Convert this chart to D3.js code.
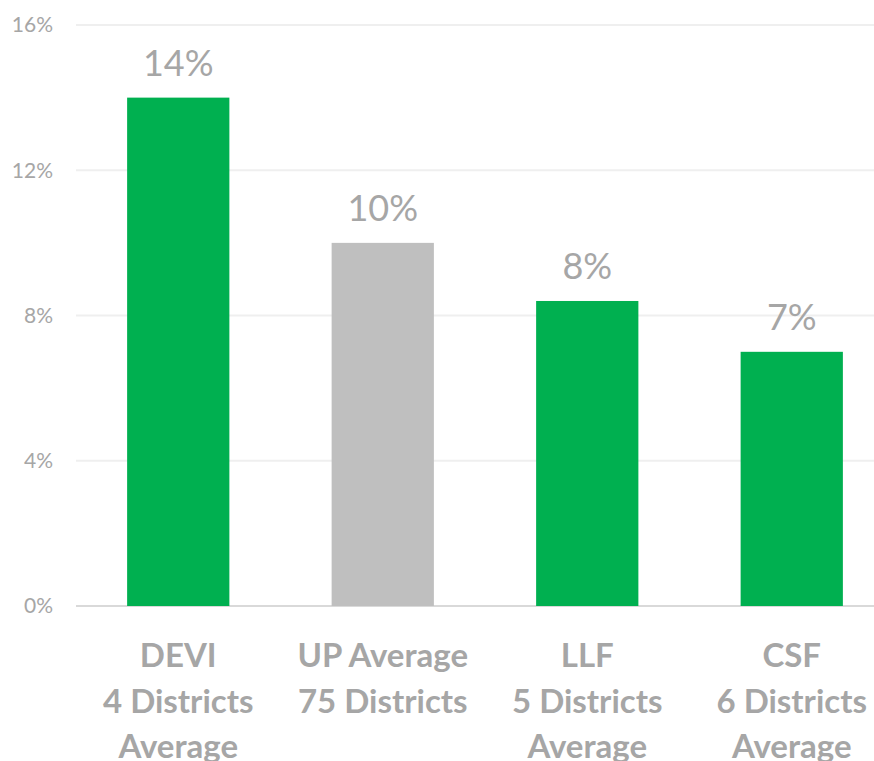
<!DOCTYPE html>
<meta charset="utf-8">
<script src="https://d3js.org/d3.v7.min.js"></script>
<style>
  body { margin: 0; background: #fff; }
  text { font-family: Lato, "Open Sans", sans-serif; }
</style>
<div id="my_dataviz"></div>
<script>
  // data
  var categories = [
    ["DEVI", "4 Districts", "Average"],
    ["UP Average", "75 Districts"],
    ["LLF", "5 Districts", "Average"],
    ["CSF", "6 Districts", "Average"]
  ];
  var values = [14, 10, 8.4, 7];
  var valueLabels = ["14%", "10%", "8%", "7%"];
  var barColors = ["#00B050", "#BFBFBF", "#00B050", "#00B050"];
  var yTicks = [0, 4, 8, 12, 16];

  var W = 874, H = 761;
  var svg = d3.select("#my_dataviz")
    .append("svg")
      .attr("width", W)
      .attr("height", H);

  var x = d3.scaleBand()
    .domain(d3.range(values.length))
    .range([76, 894])
    .paddingInner(0.5)
    .paddingOuter(0.25);

  var y = d3.scaleLinear()
    .domain([0, 16])
    .range([606, 25]);

  // gridlines
  svg.append("g")
    .selectAll("line")
    .data(yTicks)
    .enter()
    .append("line")
      .attr("x1", 76)
      .attr("x2", W)
      .attr("y1", function(d) { return y(d); })
      .attr("y2", function(d) { return y(d); })
      .attr("stroke", function(d) { return d === 0 ? "#D9D9D9" : "#EFEFEF"; })
      .attr("stroke-width", 2);

  // y axis labels
  svg.append("g")
    .selectAll("text")
    .data(yTicks)
    .enter()
    .append("text")
      .attr("x", 53)
      .attr("y", function(d) { return y(d); })
      .attr("dy", "0.35em")
      .attr("text-anchor", "end")
      .attr("fill", "#A6A6A6")
      .style("font-size", "21px")
      .text(function(d) { return d + "%"; });

  // bars
  svg.selectAll("rect.bar")
    .data(values)
    .enter()
    .append("rect")
      .attr("class", "bar")
      .attr("x", function(d, i) { return x(i); })
      .attr("y", function(d) { return y(d); })
      .attr("width", x.bandwidth())
      .attr("height", function(d) { return y(0) - y(d); })
      .attr("fill", function(d, i) { return barColors[i]; });

  // value labels
  svg.selectAll("text.val")
    .data(values)
    .enter()
    .append("text")
      .attr("class", "val")
      .attr("x", function(d, i) { return x(i) + x.bandwidth() / 2; })
      .attr("y", function(d) { return y(d) - 22; })
      .attr("text-anchor", "middle")
      .attr("fill", "#A6A6A6")
      .style("font-size", "36px")
      .text(function(d, i) { return valueLabels[i]; });

  // category labels
  var cat = svg.selectAll("text.cat")
    .data(categories)
    .enter()
    .append("text")
      .attr("class", "cat")
      .attr("x", function(d, i) { return x(i) + x.bandwidth() / 2; })
      .attr("text-anchor", "middle")
      .attr("fill", "#A6A6A6")
      .style("font-size", "33px")
      .style("font-weight", "bold");

  cat.selectAll("tspan")
    .data(function(d) { return d; })
    .enter()
    .append("tspan")
      .attr("x", function() { return d3.select(this.parentNode).attr("x"); })
      .attr("y", function(d, j) { return 667 + j * 45.5; })
      .text(function(d) { return d; });
</script>
